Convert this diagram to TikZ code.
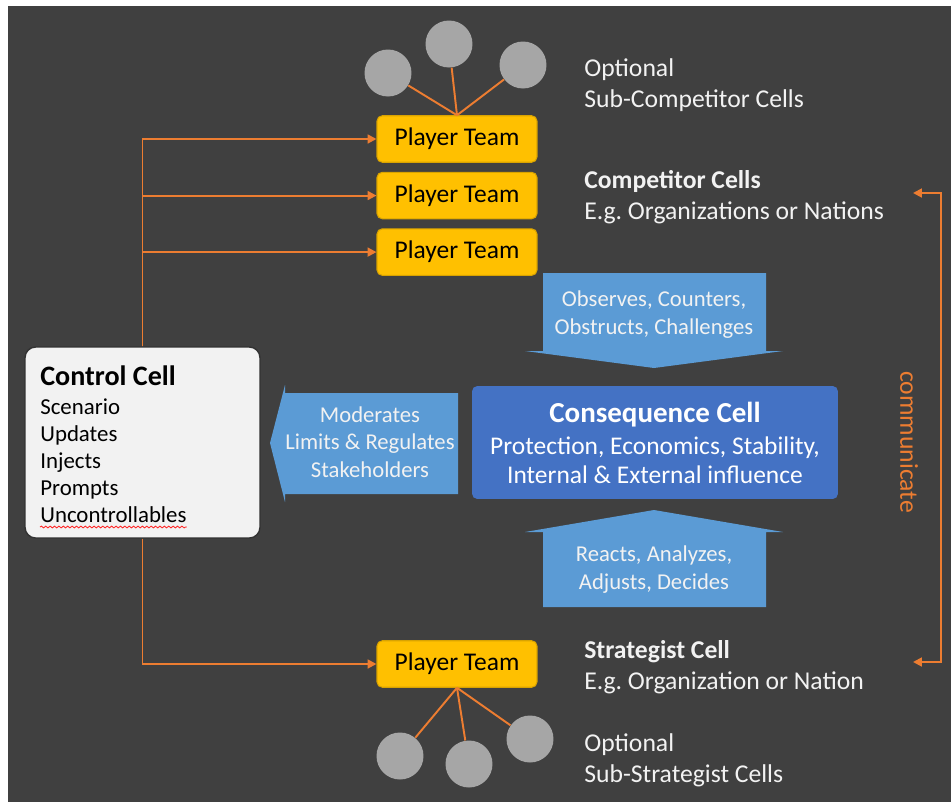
\documentclass[tikz,border=0pt]{standalone}
\usepackage{fontspec}
\setmainfont{Carlito}
\usetikzlibrary{arrows.meta,positioning,calc,decorations.pathmorphing}

\definecolor{slate}{HTML}{404040}
\definecolor{wireorange}{HTML}{ED7D31}
\definecolor{teamgold}{HTML}{FFC000}
\definecolor{cellblue}{HTML}{4472C4}
\definecolor{flowblue}{HTML}{5B9BD5}
\definecolor{subgray}{HTML}{A6A6A6}
\definecolor{paper}{HTML}{F2F2F2}
\newcommand{\fsz}[2]{\fontsize{#1}{#2}\selectfont}
\frenchspacing

\begin{document}
\begin{tikzpicture}[x=0.02cm,y=-0.02cm,>={Triangle[length=5pt,width=5pt]},
   team/.style={rectangle,rounded corners=3pt,fill=teamgold,draw=teamgold!85!black,line width=0.6pt,
     minimum width=3.2cm,minimum height=0.93cm,inner sep=0pt,font=\fsz{14.5}{17}},
   wire/.style={draw=wireorange,line width=1.1pt},
   sub/.style={circle,fill=subgray,minimum size=0.94cm,inner sep=0pt},
   side/.style={anchor=base west,align=left,inner sep=0pt,text=paper,font=\fsz{14.6}{17.6}},
   item/.style={anchor=base west,inner sep=0pt,font=\fsz{13}{15}},
   flowtext/.style={anchor=base,align=center,inner sep=0pt,text=paper,font=\fsz{12.9}{15.6}}]
  \fill[white] (0,0) rectangle (951,802);
  \fill[slate] (8,6) rectangle (951,802);
  \useasboundingbox (0,0) rectangle (951,802);

  % player teams and their sub cells
  \node[team] (pt1) at (457,139) {Player Team};
  \node[team,below=0.18cm of pt1] (pt2) {Player Team};
  \node[team,below=0.18cm of pt2] (pt3) {Player Team};
  \node[team] (pt4) at (457,664) {Player Team};
  \node[sub] (s1) at (388,73) {};
  \node[sub] (s2) at (449,44) {};
  \node[sub] (s3) at (523,65) {};
  \node[sub] (s4) at (400,756) {};
  \node[sub] (s5) at (469,764) {};
  \node[sub] (s6) at (530,739) {};
  \foreach \s in {s1,s2,s3} \draw[wire] (pt1.north) -- (\s);
  \foreach \s in {s4,s5,s6} \draw[wire] (pt4.south) -- (\s);

  % control cell
  \node[rectangle,rounded corners=6pt,fill=paper,draw=black!80,line width=0.8pt,
        minimum width=4.7cm,minimum height=3.82cm] (ctrl) at (142.5,442.5) {};
  \node[item,font=\fsz{16}{19}\bfseries] (ctitle) at (40,385) {Control Cell};
  \foreach \w [count=\i] in {Scenario,Updates,Injects,Prompts,Uncontrollables}
    \node[item] (c\i) at (40,387+27*\i) {\w};
  \draw[red!85,line width=0.5pt,decorate,decoration={snake,amplitude=0.5pt,segment length=2.5pt}]
    ($(c5.base west)+(0,5)$) -- ($(c5.base east)+(0,5)$);
  \foreach \p in {pt1,pt2,pt3} \draw[wire,->] (ctrl.north) |- (\p);
  \draw[wire,->] (ctrl.south) |- (pt4);

  % consequence cell and the block arrows (multi-line texts sit on their last baseline)
  \node[rectangle,rounded corners=3pt,fill=cellblue,minimum width=7.32cm,minimum height=2.26cm] (cq) at (655,442.5) {};
  \node[flowtext,text=white,font=\fsz{16.5}{19}\bfseries] (cqtitle) at (655,422) {Consequence Cell};
  \node[flowtext,text=white,font=\fsz{14.5}{16.4}] (cqbody) at (655,483) {Protection, Economics, Stability,\\Internal \& External influence};
  \fill[flowblue] (543,273) -- (766,273) -- (766,351) -- (783,351) -- (654,368) -- (525,351) -- (543,351) -- cycle;
  \node[flowtext] (obs) at (654,334) {Observes, Counters,\\Obstructs, Challenges};
  \fill[flowblue] (543,607) -- (766,607) -- (766,532) -- (783,532) -- (654,510) -- (525,532) -- (543,532) -- cycle;
  \node[flowtext] (react) at (654,589) {Reacts, Analyzes,\\Adjusts, Decides};
  \fill[flowblue] (458,393) -- (458,494) -- (285,494) -- (285,502) -- (270,443) -- (285,385) -- (285,393) -- cycle;
  \node[flowtext] (mod) at (370,477) {Moderates\\Limits \& Regulates\\Stakeholders};

  % cell captions
  \node[side] (subc) at (584,107) {Optional\\Sub-Competitor Cells};
  \node[side] (comp) at (584,219) {\bfseries Competitor Cells\\E.g. Organizations or Nations};
  \node[side] (strat) at (584,689) {\bfseries Strategist Cell\\E.g. Organization or Nation};
  \node[side] (subs) at (584,782) {Optional\\Sub-Strategist Cells};

  % communicate bracket
  \coordinate (ctop) at (913,193);
  \coordinate (cbot) at (913,662);
  \draw[wire,<->] (ctop) -- ++(28,0) |- (cbot);
  \node[rotate=-90,text=wireorange,font=\fsz{14.6}{17}] (comm) at (909,442) {communicate};
\end{tikzpicture}
\end{document}
